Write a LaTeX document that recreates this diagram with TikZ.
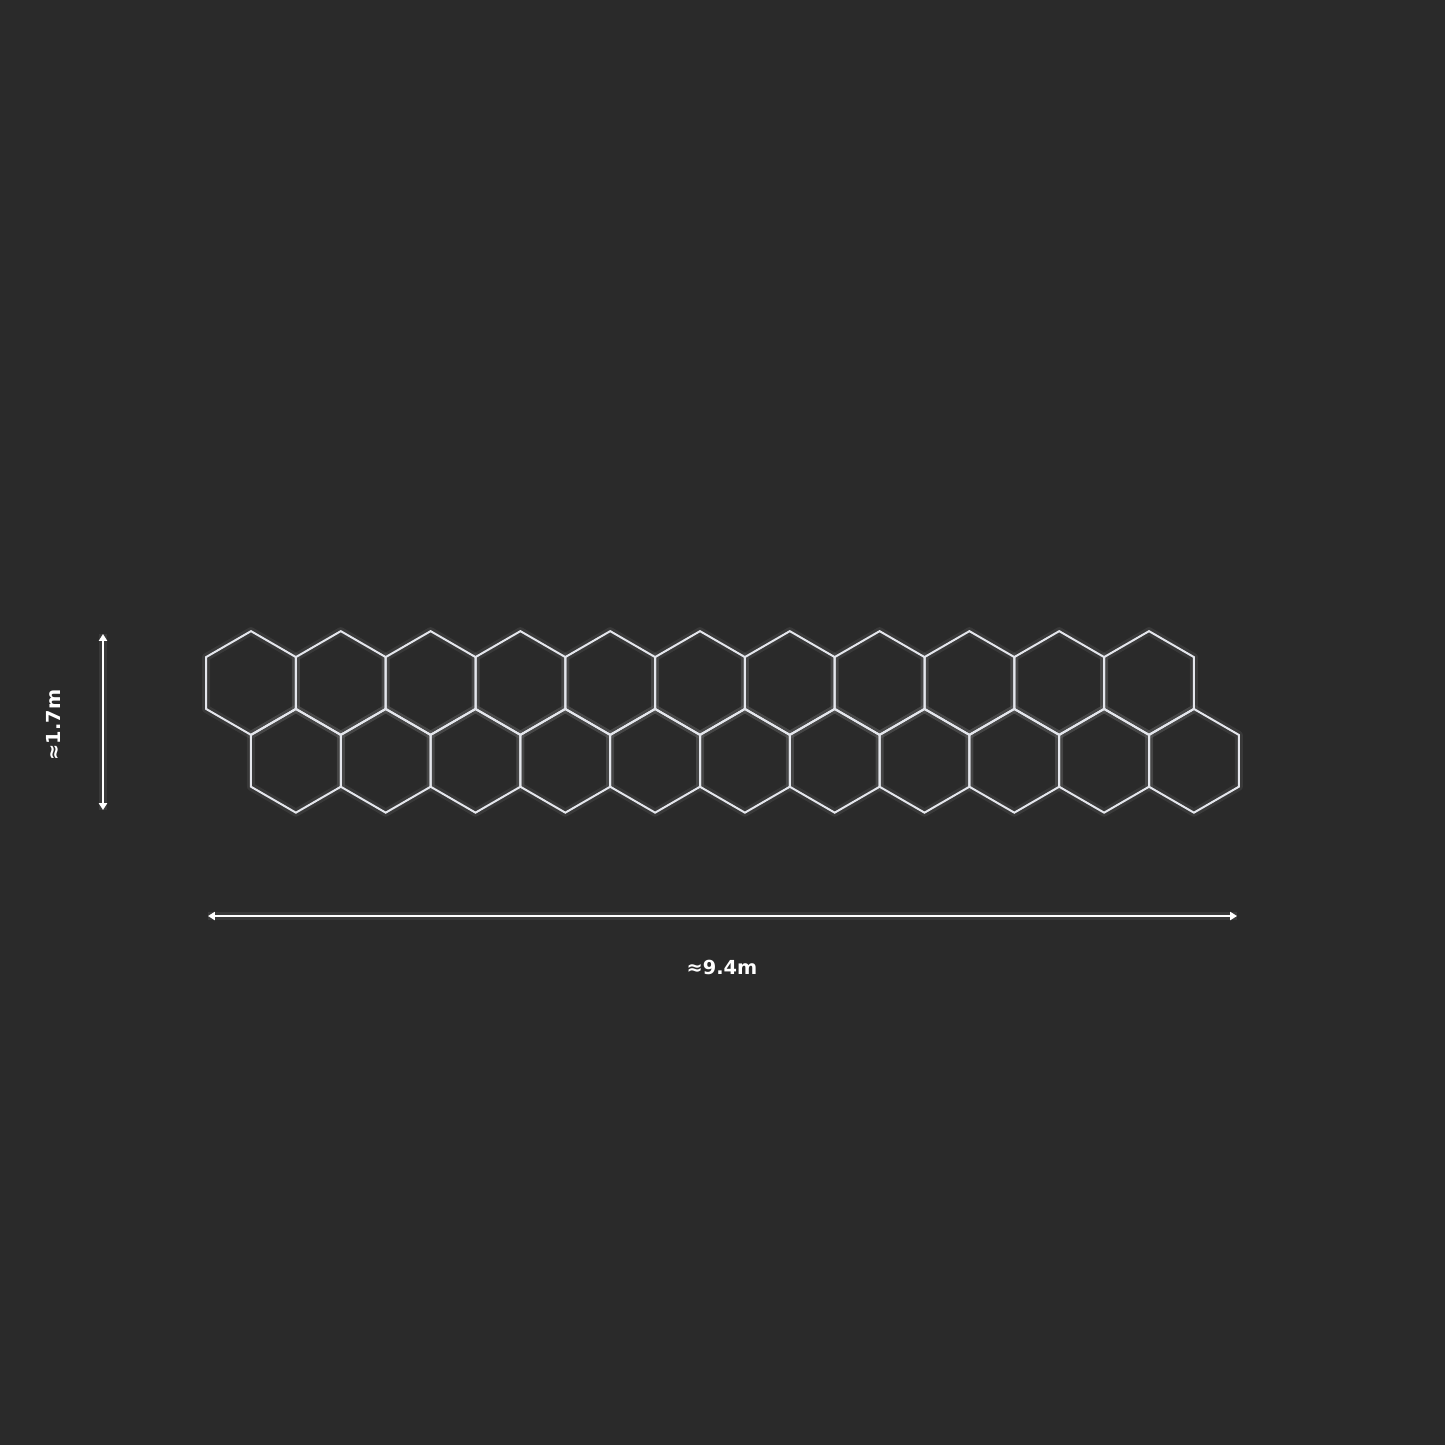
\documentclass[tikz,border=0pt]{standalone}
\usepackage{fontspec}
\setmainfont{DejaVu Sans}
\usetikzlibrary{arrows.meta}
\definecolor{bg}{HTML}{2A2A2A}
\definecolor{hexline}{HTML}{E4E6EC}
\tikzset{
  glow/.style={draw=white, opacity=0.07, line width=4mm, line join=round},
  hexedge/.style={draw=hexline, line width=1mm, line join=miter},
  dimline/.style={draw=white, line width=0.9mm, {Triangle[length=3.4mm,width=4mm]}-{Triangle[length=3.4mm,width=4mm]}},
  dimlabel/.style={text=white, font=\bfseries\fontsize{27.5}{32}\selectfont, inner sep=0pt}
}
\begin{document}
\begin{tikzpicture}[x=0.5mm,y=-0.5mm]
\fill[bg] (0,0) rectangle (1445,1445);
\useasboundingbox (0,0) rectangle (1445,1445);
\def\R{51.85}
% hexagon grid: top row and bottom row
\foreach \row/\x/\y in {0/251/683, 1/295.9/760.8}{
  \foreach \i in {0,...,10}{
    \pgfmathsetmacro{\cx}{\x+89.8*\i}
    \path[glow] (\cx,\y) ++(90:\R) -- ++(210:\R) -- ++(270:\R) -- ++(330:\R) -- ++(30:\R) -- ++(90:\R) -- cycle;
  }
}
\foreach \row/\x/\y in {0/251/683, 1/295.9/760.8}{
  \foreach \i in {0,...,10}{
    \pgfmathsetmacro{\cx}{\x+89.8*\i}
    \coordinate (h\row-\i) at (\cx,\y);
    \path[hexedge] (h\row-\i) ++(90:\R) -- ++(210:\R) -- ++(270:\R) -- ++(330:\R) -- ++(30:\R) -- ++(90:\R) -- cycle;
  }
}
% dimension arrows
\coordinate (vtop) at (103,634);
\coordinate (vbot) at (103,810);
\coordinate (hl) at (208,916);
\coordinate (hr) at (1237,916);
\draw[white, opacity=0.07, line width=4mm] (vtop) -- (vbot);
\draw[white, opacity=0.07, line width=4mm] (hl) -- (hr);
\draw[dimline] (vtop) -- (vbot);
\draw[dimline] (hl) -- (hr);
\node[dimlabel, rotate=90] (lh) at (53,725) {≈1.7m};
\node[dimlabel] (lw) at (722,967) {≈9.4m};
\end{tikzpicture}
\end{document}
